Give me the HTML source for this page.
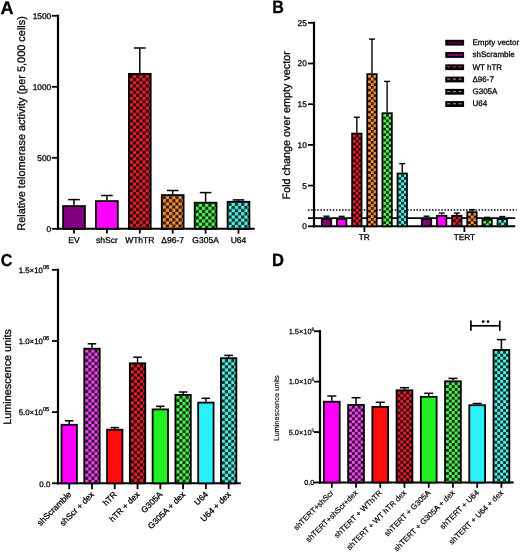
<!DOCTYPE html>
<html><head><meta charset="utf-8"><style>
html,body{margin:0;padding:0;background:#fff;}
svg{display:block;font-family:"Liberation Sans", sans-serif;will-change:transform;text-rendering:geometricPrecision;}
text{stroke:#000;stroke-width:0.28px;}
</style></head><body>
<svg width="520" height="552" viewBox="0 0 520 552">
<defs><filter id="glob" x="0" y="0" width="520" height="552" filterUnits="userSpaceOnUse"><feGaussianBlur stdDeviation="0.35"/></filter><filter id="soft" x="-5%" y="-1%" width="110%" height="102%"><feGaussianBlur stdDeviation="0.45"/></filter><pattern id="p1" patternUnits="userSpaceOnUse" x="129.80" y="77.97" width="6.340" height="6.340"><rect width="6.340" height="6.340" fill="#2d0608"/><rect x="0.000" y="0.000" width="3.170" height="3.170" fill="#E2202A"/><rect x="3.170" y="3.170" width="3.170" height="3.170" fill="#E2202A"/></pattern><pattern id="p2" patternUnits="userSpaceOnUse" x="162.70" y="199.17" width="6.340" height="6.340"><rect width="6.340" height="6.340" fill="#311c0c"/><rect x="0.000" y="0.000" width="3.170" height="3.170" fill="#F5903F"/><rect x="3.170" y="3.170" width="3.170" height="3.170" fill="#F5903F"/></pattern><pattern id="p3" patternUnits="userSpaceOnUse" x="195.60" y="206.77" width="6.340" height="6.340"><rect width="6.340" height="6.340" fill="#113011"/><rect x="0.000" y="0.000" width="3.170" height="3.170" fill="#55F055"/><rect x="3.170" y="3.170" width="3.170" height="3.170" fill="#55F055"/></pattern><pattern id="p4" patternUnits="userSpaceOnUse" x="228.50" y="205.87" width="6.340" height="6.340"><rect width="6.340" height="6.340" fill="#11302d"/><rect x="0.000" y="0.000" width="3.170" height="3.170" fill="#58F0E4"/><rect x="3.170" y="3.170" width="3.170" height="3.170" fill="#58F0E4"/></pattern><pattern id="p5" patternUnits="userSpaceOnUse" x="352.93" y="134.39" width="5.500" height="5.500"><rect width="5.500" height="5.500" fill="#2d0608"/><rect x="0.000" y="0.000" width="2.750" height="2.750" fill="#E2202A"/><rect x="2.750" y="2.750" width="2.750" height="2.750" fill="#E2202A"/></pattern><pattern id="p6" patternUnits="userSpaceOnUse" x="368.07" y="74.97" width="5.500" height="5.500"><rect width="5.500" height="5.500" fill="#311c0c"/><rect x="0.000" y="0.000" width="2.750" height="2.750" fill="#F5903F"/><rect x="2.750" y="2.750" width="2.750" height="2.750" fill="#F5903F"/></pattern><pattern id="p7" patternUnits="userSpaceOnUse" x="383.23" y="114.04" width="5.500" height="5.500"><rect width="5.500" height="5.500" fill="#113011"/><rect x="0.000" y="0.000" width="2.750" height="2.750" fill="#55F055"/><rect x="2.750" y="2.750" width="2.750" height="2.750" fill="#55F055"/></pattern><pattern id="p8" patternUnits="userSpaceOnUse" x="398.38" y="174.28" width="5.500" height="5.500"><rect width="5.500" height="5.500" fill="#11302d"/><rect x="0.000" y="0.000" width="2.750" height="2.750" fill="#58F0E4"/><rect x="2.750" y="2.750" width="2.750" height="2.750" fill="#58F0E4"/></pattern><pattern id="p9" patternUnits="userSpaceOnUse" x="452.93" y="216.60" width="5.500" height="5.500"><rect width="5.500" height="5.500" fill="#2d0608"/><rect x="0.000" y="0.000" width="2.750" height="2.750" fill="#E2202A"/><rect x="2.750" y="2.750" width="2.750" height="2.750" fill="#E2202A"/></pattern><pattern id="p10" patternUnits="userSpaceOnUse" x="468.07" y="212.94" width="5.500" height="5.500"><rect width="5.500" height="5.500" fill="#311c0c"/><rect x="0.000" y="0.000" width="2.750" height="2.750" fill="#F5903F"/><rect x="2.750" y="2.750" width="2.750" height="2.750" fill="#F5903F"/></pattern><pattern id="p11" patternUnits="userSpaceOnUse" x="483.23" y="220.67" width="5.500" height="5.500"><rect width="5.500" height="5.500" fill="#113011"/><rect x="0.000" y="0.000" width="2.750" height="2.750" fill="#55F055"/><rect x="2.750" y="2.750" width="2.750" height="2.750" fill="#55F055"/></pattern><pattern id="p12" patternUnits="userSpaceOnUse" x="498.38" y="219.86" width="5.500" height="5.500"><rect width="5.500" height="5.500" fill="#11302d"/><rect x="0.000" y="0.000" width="2.750" height="2.750" fill="#58F0E4"/><rect x="2.750" y="2.750" width="2.750" height="2.750" fill="#58F0E4"/></pattern><pattern id="p13" patternUnits="userSpaceOnUse" x="85.18" y="349.60" width="6.200" height="6.200"><rect width="6.200" height="6.200" fill="#300d30"/><rect x="0.000" y="0.000" width="3.100" height="3.100" fill="#F444F4"/><rect x="3.100" y="3.100" width="3.100" height="3.100" fill="#F444F4"/></pattern><pattern id="p14" patternUnits="userSpaceOnUse" x="130.74" y="364.20" width="6.200" height="6.200"><rect width="6.200" height="6.200" fill="#2d0608"/><rect x="0.000" y="0.000" width="3.100" height="3.100" fill="#E2202A"/><rect x="3.100" y="3.100" width="3.100" height="3.100" fill="#E2202A"/></pattern><pattern id="p15" patternUnits="userSpaceOnUse" x="176.30" y="395.80" width="6.200" height="6.200"><rect width="6.200" height="6.200" fill="#113011"/><rect x="0.000" y="0.000" width="3.100" height="3.100" fill="#55F055"/><rect x="3.100" y="3.100" width="3.100" height="3.100" fill="#55F055"/></pattern><pattern id="p16" patternUnits="userSpaceOnUse" x="221.86" y="359.10" width="6.200" height="6.200"><rect width="6.200" height="6.200" fill="#11302d"/><rect x="0.000" y="0.000" width="3.100" height="3.100" fill="#58F0E4"/><rect x="3.100" y="3.100" width="3.100" height="3.100" fill="#58F0E4"/></pattern><pattern id="p17" patternUnits="userSpaceOnUse" x="349.03" y="405.80" width="5.800" height="5.800"><rect width="5.800" height="5.800" fill="#300d30"/><rect x="0.000" y="0.000" width="2.900" height="2.900" fill="#F444F4"/><rect x="2.900" y="2.900" width="2.900" height="2.900" fill="#F444F4"/></pattern><pattern id="p18" patternUnits="userSpaceOnUse" x="397.49" y="391.20" width="5.800" height="5.800"><rect width="5.800" height="5.800" fill="#2d0608"/><rect x="0.000" y="0.000" width="2.900" height="2.900" fill="#E2202A"/><rect x="2.900" y="2.900" width="2.900" height="2.900" fill="#E2202A"/></pattern><pattern id="p19" patternUnits="userSpaceOnUse" x="445.95" y="382.20" width="5.800" height="5.800"><rect width="5.800" height="5.800" fill="#113011"/><rect x="0.000" y="0.000" width="2.900" height="2.900" fill="#55F055"/><rect x="2.900" y="2.900" width="2.900" height="2.900" fill="#55F055"/></pattern><pattern id="p20" patternUnits="userSpaceOnUse" x="494.41" y="350.90" width="5.800" height="5.800"><rect width="5.800" height="5.800" fill="#11302d"/><rect x="0.000" y="0.000" width="2.900" height="2.900" fill="#58F0E4"/><rect x="2.900" y="2.900" width="2.900" height="2.900" fill="#58F0E4"/></pattern></defs>
<rect width="520" height="552" fill="#fff"/>
<g fill="#000" filter="url(#glob)">
<text transform="translate(0.45,13.55) scale(1.05,1.06)" font-size="17.3" font-weight="bold">A</text>
<line x1="58.00" y1="14.70" x2="58.00" y2="229.90" stroke="#000" stroke-width="2.2" />
<line x1="56.90" y1="228.80" x2="254.70" y2="228.80" stroke="#000" stroke-width="2.0" />
<line x1="51.80" y1="228.80" x2="58.00" y2="228.80" stroke="#000" stroke-width="1.8" />
<text x="51.20" y="231.70" font-size="8.3" text-anchor="end" font-weight="normal" >0</text>
<line x1="51.80" y1="157.80" x2="58.00" y2="157.80" stroke="#000" stroke-width="1.8" />
<text x="51.20" y="160.70" font-size="8.3" text-anchor="end" font-weight="normal" >500</text>
<line x1="51.80" y1="86.80" x2="58.00" y2="86.80" stroke="#000" stroke-width="1.8" />
<text x="51.20" y="89.70" font-size="8.3" text-anchor="end" font-weight="normal" >1000</text>
<line x1="51.80" y1="15.80" x2="58.00" y2="15.80" stroke="#000" stroke-width="1.8" />
<text x="51.20" y="18.70" font-size="8.3" text-anchor="end" font-weight="normal" >1500</text>
<text transform="translate(24.6,123.4) rotate(-90)" font-size="10.95" text-anchor="middle">Relative telomerase activity (per 5,000 cells)</text>
<line x1="74.00" y1="205.20" x2="74.00" y2="199.60" stroke="#000" stroke-width="1.5"/>
<line x1="68.20" y1="199.60" x2="79.80" y2="199.60" stroke="#000" stroke-width="1.5"/>
<rect x="63.10" y="206.10" width="21.80" height="22.70" fill="#800080" stroke="#000" stroke-width="1.8"/>
<line x1="74.00" y1="228.80" x2="74.00" y2="233.60" stroke="#000" stroke-width="1.8" />
<text x="74.00" y="243.10" font-size="8.5" text-anchor="middle" font-weight="normal" >EV</text>
<line x1="106.90" y1="200.20" x2="106.90" y2="195.50" stroke="#000" stroke-width="1.5"/>
<line x1="101.10" y1="195.50" x2="112.70" y2="195.50" stroke="#000" stroke-width="1.5"/>
<rect x="96.00" y="201.10" width="21.80" height="27.70" fill="#FF00FF" stroke="#000" stroke-width="1.8"/>
<line x1="106.90" y1="228.80" x2="106.90" y2="233.60" stroke="#000" stroke-width="1.8" />
<text x="106.90" y="243.10" font-size="8.5" text-anchor="middle" font-weight="normal" >shScr</text>
<line x1="139.80" y1="73.00" x2="139.80" y2="48.00" stroke="#000" stroke-width="1.5"/>
<line x1="134.00" y1="48.00" x2="145.60" y2="48.00" stroke="#000" stroke-width="1.5"/>
<rect x="128.90" y="73.90" width="21.80" height="154.90" fill="url(#p1)" filter="url(#soft)"/>
<rect x="128.90" y="73.90" width="21.80" height="154.90" fill="none" stroke="#000" stroke-width="1.8"/>
<line x1="139.80" y1="228.80" x2="139.80" y2="233.60" stroke="#000" stroke-width="1.8" />
<text x="139.80" y="243.10" font-size="8.5" text-anchor="middle" font-weight="normal" >WThTR</text>
<line x1="172.70" y1="194.20" x2="172.70" y2="190.50" stroke="#000" stroke-width="1.5"/>
<line x1="166.90" y1="190.50" x2="178.50" y2="190.50" stroke="#000" stroke-width="1.5"/>
<rect x="161.80" y="195.10" width="21.80" height="33.70" fill="url(#p2)" filter="url(#soft)"/>
<rect x="161.80" y="195.10" width="21.80" height="33.70" fill="none" stroke="#000" stroke-width="1.8"/>
<line x1="172.70" y1="228.80" x2="172.70" y2="233.60" stroke="#000" stroke-width="1.8" />
<text x="172.70" y="243.10" font-size="8.5" text-anchor="middle" font-weight="normal" >&#916;96-7</text>
<line x1="205.60" y1="201.80" x2="205.60" y2="192.60" stroke="#000" stroke-width="1.5"/>
<line x1="199.80" y1="192.60" x2="211.40" y2="192.60" stroke="#000" stroke-width="1.5"/>
<rect x="194.70" y="202.70" width="21.80" height="26.10" fill="url(#p3)" filter="url(#soft)"/>
<rect x="194.70" y="202.70" width="21.80" height="26.10" fill="none" stroke="#000" stroke-width="1.8"/>
<line x1="205.60" y1="228.80" x2="205.60" y2="233.60" stroke="#000" stroke-width="1.8" />
<text x="205.60" y="243.10" font-size="8.5" text-anchor="middle" font-weight="normal" >G305A</text>
<line x1="238.50" y1="200.90" x2="238.50" y2="199.90" stroke="#000" stroke-width="1.5"/>
<line x1="232.70" y1="199.90" x2="244.30" y2="199.90" stroke="#000" stroke-width="1.5"/>
<rect x="227.60" y="201.80" width="21.80" height="27.00" fill="url(#p4)" filter="url(#soft)"/>
<rect x="227.60" y="201.80" width="21.80" height="27.00" fill="none" stroke="#000" stroke-width="1.8"/>
<line x1="238.50" y1="228.80" x2="238.50" y2="233.60" stroke="#000" stroke-width="1.8" />
<text x="238.50" y="243.10" font-size="8.5" text-anchor="middle" font-weight="normal" >U64</text>
<text transform="translate(272.3,13.1) scale(0.93,1.04)" font-size="17.3" font-weight="bold">B</text>
<line x1="314.00" y1="21.70" x2="314.00" y2="227.40" stroke="#000" stroke-width="2.2" />
<line x1="312.90" y1="226.30" x2="515.20" y2="226.30" stroke="#000" stroke-width="2.0" />
<line x1="308.00" y1="226.30" x2="314.00" y2="226.30" stroke="#000" stroke-width="1.8" />
<text x="306.80" y="229.20" font-size="8.3" text-anchor="end" font-weight="normal" >0</text>
<line x1="308.00" y1="185.60" x2="314.00" y2="185.60" stroke="#000" stroke-width="1.8" />
<text x="306.80" y="188.50" font-size="8.3" text-anchor="end" font-weight="normal" >5</text>
<line x1="308.00" y1="144.90" x2="314.00" y2="144.90" stroke="#000" stroke-width="1.8" />
<text x="306.80" y="147.80" font-size="8.3" text-anchor="end" font-weight="normal" >10</text>
<line x1="308.00" y1="104.20" x2="314.00" y2="104.20" stroke="#000" stroke-width="1.8" />
<text x="306.80" y="107.10" font-size="8.3" text-anchor="end" font-weight="normal" >15</text>
<line x1="308.00" y1="63.50" x2="314.00" y2="63.50" stroke="#000" stroke-width="1.8" />
<text x="306.80" y="66.40" font-size="8.3" text-anchor="end" font-weight="normal" >20</text>
<line x1="308.00" y1="22.80" x2="314.00" y2="22.80" stroke="#000" stroke-width="1.8" />
<text x="306.80" y="25.70" font-size="8.3" text-anchor="end" font-weight="normal" >25</text>
<line x1="308.00" y1="218.16" x2="515.20" y2="218.16" stroke="#000" stroke-width="1.8" />
<line x1="308" y1="210.02" x2="516.5" y2="210.02" stroke="#000" stroke-width="1.3" stroke-dasharray="1.5 1.6"/>
<text transform="translate(290.4,125.3) rotate(-90)" font-size="10.8" text-anchor="middle">Fold change over empty vector</text>
<line x1="326.52" y1="218.16" x2="326.52" y2="216.21" stroke="#000" stroke-width="1.4"/>
<line x1="323.52" y1="216.21" x2="329.52" y2="216.21" stroke="#000" stroke-width="1.4"/>
<rect x="321.77" y="219.01" width="9.50" height="7.29" fill="#800080" stroke="#000" stroke-width="1.7"/>
<line x1="341.67" y1="218.16" x2="341.67" y2="216.37" stroke="#000" stroke-width="1.4"/>
<line x1="338.67" y1="216.37" x2="344.67" y2="216.37" stroke="#000" stroke-width="1.4"/>
<rect x="336.92" y="219.01" width="9.50" height="7.29" fill="#FF00FF" stroke="#000" stroke-width="1.7"/>
<line x1="356.82" y1="132.69" x2="356.82" y2="117.22" stroke="#000" stroke-width="1.4"/>
<line x1="353.82" y1="117.22" x2="359.82" y2="117.22" stroke="#000" stroke-width="1.4"/>
<rect x="352.07" y="133.54" width="9.50" height="92.76" fill="url(#p5)" filter="url(#soft)"/>
<rect x="352.07" y="133.54" width="9.50" height="92.76" fill="none" stroke="#000" stroke-width="1.7"/>
<line x1="371.97" y1="73.27" x2="371.97" y2="39.08" stroke="#000" stroke-width="1.4"/>
<line x1="368.97" y1="39.08" x2="374.97" y2="39.08" stroke="#000" stroke-width="1.4"/>
<rect x="367.22" y="74.12" width="9.50" height="152.18" fill="url(#p6)" filter="url(#soft)"/>
<rect x="367.22" y="74.12" width="9.50" height="152.18" fill="none" stroke="#000" stroke-width="1.7"/>
<line x1="387.12" y1="112.34" x2="387.12" y2="81.41" stroke="#000" stroke-width="1.4"/>
<line x1="384.12" y1="81.41" x2="390.12" y2="81.41" stroke="#000" stroke-width="1.4"/>
<rect x="382.38" y="113.19" width="9.50" height="113.11" fill="url(#p7)" filter="url(#soft)"/>
<rect x="382.38" y="113.19" width="9.50" height="113.11" fill="none" stroke="#000" stroke-width="1.7"/>
<line x1="402.27" y1="172.58" x2="402.27" y2="163.62" stroke="#000" stroke-width="1.4"/>
<line x1="399.27" y1="163.62" x2="405.27" y2="163.62" stroke="#000" stroke-width="1.4"/>
<rect x="397.52" y="173.43" width="9.50" height="52.87" fill="url(#p8)" filter="url(#soft)"/>
<rect x="397.52" y="173.43" width="9.50" height="52.87" fill="none" stroke="#000" stroke-width="1.7"/>
<line x1="364.40" y1="226.30" x2="364.40" y2="232.00" stroke="#000" stroke-width="1.8" />
<line x1="426.52" y1="218.16" x2="426.52" y2="216.21" stroke="#000" stroke-width="1.4"/>
<line x1="423.52" y1="216.21" x2="429.52" y2="216.21" stroke="#000" stroke-width="1.4"/>
<rect x="421.77" y="219.01" width="9.50" height="7.29" fill="#800080" stroke="#000" stroke-width="1.7"/>
<line x1="441.67" y1="214.90" x2="441.67" y2="213.03" stroke="#000" stroke-width="1.4"/>
<line x1="438.67" y1="213.03" x2="444.67" y2="213.03" stroke="#000" stroke-width="1.4"/>
<rect x="436.92" y="215.75" width="9.50" height="10.55" fill="#FF00FF" stroke="#000" stroke-width="1.7"/>
<line x1="456.82" y1="214.90" x2="456.82" y2="213.03" stroke="#000" stroke-width="1.4"/>
<line x1="453.82" y1="213.03" x2="459.82" y2="213.03" stroke="#000" stroke-width="1.4"/>
<rect x="452.07" y="215.75" width="9.50" height="10.55" fill="url(#p9)" filter="url(#soft)"/>
<rect x="452.07" y="215.75" width="9.50" height="10.55" fill="none" stroke="#000" stroke-width="1.7"/>
<line x1="471.97" y1="211.24" x2="471.97" y2="209.61" stroke="#000" stroke-width="1.4"/>
<line x1="468.97" y1="209.61" x2="474.97" y2="209.61" stroke="#000" stroke-width="1.4"/>
<rect x="467.22" y="212.09" width="9.50" height="14.21" fill="url(#p10)" filter="url(#soft)"/>
<rect x="467.22" y="212.09" width="9.50" height="14.21" fill="none" stroke="#000" stroke-width="1.7"/>
<line x1="487.12" y1="218.97" x2="487.12" y2="217.35" stroke="#000" stroke-width="1.4"/>
<line x1="484.12" y1="217.35" x2="490.12" y2="217.35" stroke="#000" stroke-width="1.4"/>
<rect x="482.38" y="219.82" width="9.50" height="6.48" fill="url(#p11)" filter="url(#soft)"/>
<rect x="482.38" y="219.82" width="9.50" height="6.48" fill="none" stroke="#000" stroke-width="1.7"/>
<line x1="502.27" y1="218.16" x2="502.27" y2="216.53" stroke="#000" stroke-width="1.4"/>
<line x1="499.27" y1="216.53" x2="505.27" y2="216.53" stroke="#000" stroke-width="1.4"/>
<rect x="497.52" y="219.01" width="9.50" height="7.29" fill="url(#p12)" filter="url(#soft)"/>
<rect x="497.52" y="219.01" width="9.50" height="7.29" fill="none" stroke="#000" stroke-width="1.7"/>
<line x1="464.40" y1="226.30" x2="464.40" y2="232.00" stroke="#000" stroke-width="1.8" />
<text x="364.20" y="240.00" font-size="8.3" text-anchor="middle" font-weight="normal" >TR</text>
<text x="464.40" y="240.00" font-size="8.3" text-anchor="middle" font-weight="normal" >TERT</text>
<rect x="445.9" y="40.40" width="17.6" height="4.6" fill="#120008" stroke="#000" stroke-width="1.2"/>
<line x1="447.5" y1="42.70" x2="462.5" y2="42.70" stroke="#800080" stroke-width="1.3" opacity="0.7"/>
<text x="472.50" y="45.00" font-size="8.0" text-anchor="start" font-weight="normal" >Empty vector</text>
<rect x="445.9" y="52.67" width="17.6" height="4.6" fill="#120008" stroke="#000" stroke-width="1.2"/>
<line x1="447.5" y1="54.97" x2="462.5" y2="54.97" stroke="#FF00FF" stroke-width="1.3" opacity="0.7"/>
<text x="472.50" y="57.27" font-size="8.0" text-anchor="start" font-weight="normal" >shScramble</text>
<rect x="445.9" y="64.94" width="17.6" height="4.6" fill="#120008" stroke="#000" stroke-width="1.2"/>
<line x1="447.2" y1="66.94" x2="461.6" y2="66.94" stroke="#A83848" stroke-width="1.2" stroke-dasharray="3 2.7"/>
<text x="472.50" y="69.54" font-size="8.0" text-anchor="start" font-weight="normal" >WT hTR</text>
<rect x="445.9" y="77.21" width="17.6" height="4.6" fill="#120008" stroke="#000" stroke-width="1.2"/>
<line x1="447.2" y1="79.21" x2="461.6" y2="79.21" stroke="#B87868" stroke-width="1.2" stroke-dasharray="3 2.7"/>
<text x="472.50" y="81.81" font-size="8.0" text-anchor="start" font-weight="normal" >&#916;96-7</text>
<rect x="445.9" y="89.48" width="17.6" height="4.6" fill="#120008" stroke="#000" stroke-width="1.2"/>
<line x1="447.2" y1="91.48" x2="461.6" y2="91.48" stroke="#78B078" stroke-width="1.2" stroke-dasharray="3 2.7"/>
<text x="472.50" y="94.08" font-size="8.0" text-anchor="start" font-weight="normal" >G305A</text>
<rect x="445.9" y="101.75" width="17.6" height="4.6" fill="#120008" stroke="#000" stroke-width="1.2"/>
<line x1="447.2" y1="103.75" x2="461.6" y2="103.75" stroke="#78B8B4" stroke-width="1.2" stroke-dasharray="3 2.7"/>
<text x="472.50" y="106.35" font-size="8.0" text-anchor="start" font-weight="normal" >U64</text>
<text transform="translate(0.65,265.7) scale(0.93,1.0)" font-size="17.3" font-weight="bold">C</text>
<line x1="58.00" y1="268.70" x2="58.00" y2="484.40" stroke="#000" stroke-width="2.2" />
<line x1="56.90" y1="483.30" x2="240.80" y2="483.30" stroke="#000" stroke-width="2.0" />
<line x1="52.00" y1="483.30" x2="58.00" y2="483.30" stroke="#000" stroke-width="1.8" />
<text x="50.30" y="486.80" font-size="7.9" text-anchor="end" font-weight="normal" >0.0</text>
<line x1="52.00" y1="412.13" x2="58.00" y2="412.13" stroke="#000" stroke-width="1.8" />
<text x="42.9" y="415.03" font-size="7.85" text-anchor="end">5.0&#215;10</text>
<text x="42.9" y="411.43" font-size="5.7">05</text>
<line x1="52.00" y1="340.97" x2="58.00" y2="340.97" stroke="#000" stroke-width="1.8" />
<text x="42.9" y="343.87" font-size="7.85" text-anchor="end">1.0&#215;10</text>
<text x="42.9" y="340.27" font-size="5.7">06</text>
<line x1="52.00" y1="269.80" x2="58.00" y2="269.80" stroke="#000" stroke-width="1.8" />
<text x="42.9" y="272.70" font-size="7.85" text-anchor="end">1.5&#215;10</text>
<text x="42.9" y="269.10" font-size="5.7">06</text>
<text transform="translate(10.9,376.9) rotate(-90)" font-size="10.85" text-anchor="middle">Luminescence units</text>
<line x1="69.20" y1="423.90" x2="69.20" y2="420.80" stroke="#000" stroke-width="1.5"/>
<line x1="64.90" y1="420.80" x2="73.50" y2="420.80" stroke="#000" stroke-width="1.5"/>
<rect x="61.50" y="424.80" width="15.40" height="58.50" fill="#FF00FF" stroke="#000" stroke-width="1.8"/>
<line x1="69.20" y1="483.30" x2="69.20" y2="489.20" stroke="#000" stroke-width="1.8" />
<text transform="translate(71.80,495.00) rotate(-45)" font-size="8.4" text-anchor="end">shScramble</text>
<line x1="91.98" y1="347.80" x2="91.98" y2="343.80" stroke="#000" stroke-width="1.5"/>
<line x1="87.68" y1="343.80" x2="96.28" y2="343.80" stroke="#000" stroke-width="1.5"/>
<rect x="84.28" y="348.70" width="15.40" height="134.60" fill="url(#p13)" filter="url(#soft)"/>
<rect x="84.28" y="348.70" width="15.40" height="134.60" fill="none" stroke="#000" stroke-width="1.8"/>
<line x1="91.98" y1="483.30" x2="91.98" y2="489.20" stroke="#000" stroke-width="1.8" />
<text transform="translate(94.58,495.00) rotate(-45)" font-size="8.4" text-anchor="end">shScr + dex</text>
<line x1="114.76" y1="428.80" x2="114.76" y2="427.60" stroke="#000" stroke-width="1.5"/>
<line x1="110.46" y1="427.60" x2="119.06" y2="427.60" stroke="#000" stroke-width="1.5"/>
<rect x="107.06" y="429.70" width="15.40" height="53.60" fill="#FF0808" stroke="#000" stroke-width="1.8"/>
<line x1="114.76" y1="483.30" x2="114.76" y2="489.20" stroke="#000" stroke-width="1.8" />
<text transform="translate(117.36,495.00) rotate(-45)" font-size="8.4" text-anchor="end">hTR</text>
<line x1="137.54" y1="362.40" x2="137.54" y2="357.20" stroke="#000" stroke-width="1.5"/>
<line x1="133.24" y1="357.20" x2="141.84" y2="357.20" stroke="#000" stroke-width="1.5"/>
<rect x="129.84" y="363.30" width="15.40" height="120.00" fill="url(#p14)" filter="url(#soft)"/>
<rect x="129.84" y="363.30" width="15.40" height="120.00" fill="none" stroke="#000" stroke-width="1.8"/>
<line x1="137.54" y1="483.30" x2="137.54" y2="489.20" stroke="#000" stroke-width="1.8" />
<text transform="translate(140.14,495.00) rotate(-45)" font-size="8.4" text-anchor="end">hTR + dex</text>
<line x1="160.32" y1="408.50" x2="160.32" y2="406.30" stroke="#000" stroke-width="1.5"/>
<line x1="156.02" y1="406.30" x2="164.62" y2="406.30" stroke="#000" stroke-width="1.5"/>
<rect x="152.62" y="409.40" width="15.40" height="73.90" fill="#22EE22" stroke="#000" stroke-width="1.8"/>
<line x1="160.32" y1="483.30" x2="160.32" y2="489.20" stroke="#000" stroke-width="1.8" />
<text transform="translate(162.92,495.00) rotate(-45)" font-size="8.4" text-anchor="end">G305A</text>
<line x1="183.10" y1="394.00" x2="183.10" y2="392.00" stroke="#000" stroke-width="1.5"/>
<line x1="178.80" y1="392.00" x2="187.40" y2="392.00" stroke="#000" stroke-width="1.5"/>
<rect x="175.40" y="394.90" width="15.40" height="88.40" fill="url(#p15)" filter="url(#soft)"/>
<rect x="175.40" y="394.90" width="15.40" height="88.40" fill="none" stroke="#000" stroke-width="1.8"/>
<line x1="183.10" y1="483.30" x2="183.10" y2="489.20" stroke="#000" stroke-width="1.8" />
<text transform="translate(185.70,495.00) rotate(-45)" font-size="8.4" text-anchor="end">G305A + dex</text>
<line x1="205.88" y1="401.70" x2="205.88" y2="398.30" stroke="#000" stroke-width="1.5"/>
<line x1="201.58" y1="398.30" x2="210.18" y2="398.30" stroke="#000" stroke-width="1.5"/>
<rect x="198.18" y="402.60" width="15.40" height="80.70" fill="#2AF0F8" stroke="#000" stroke-width="1.8"/>
<line x1="205.88" y1="483.30" x2="205.88" y2="489.20" stroke="#000" stroke-width="1.8" />
<text transform="translate(208.48,495.00) rotate(-45)" font-size="8.4" text-anchor="end">U64</text>
<line x1="228.66" y1="357.30" x2="228.66" y2="355.40" stroke="#000" stroke-width="1.5"/>
<line x1="224.36" y1="355.40" x2="232.96" y2="355.40" stroke="#000" stroke-width="1.5"/>
<rect x="220.96" y="358.20" width="15.40" height="125.10" fill="url(#p16)" filter="url(#soft)"/>
<rect x="220.96" y="358.20" width="15.40" height="125.10" fill="none" stroke="#000" stroke-width="1.8"/>
<line x1="228.66" y1="483.30" x2="228.66" y2="489.20" stroke="#000" stroke-width="1.8" />
<text transform="translate(231.26,495.00) rotate(-45)" font-size="8.4" text-anchor="end">U64 + dex</text>
<text transform="translate(272.0,265.9) scale(0.96,1.04)" font-size="17.3" font-weight="bold">D</text>
<line x1="320.00" y1="330.10" x2="320.00" y2="483.60" stroke="#000" stroke-width="2.2" />
<line x1="318.90" y1="482.50" x2="513.70" y2="482.50" stroke="#000" stroke-width="2.0" />
<line x1="314.00" y1="482.50" x2="320.00" y2="482.50" stroke="#000" stroke-width="1.8" />
<text x="314.20" y="485.20" font-size="7.2" text-anchor="end" font-weight="normal" >0.0</text>
<line x1="314.00" y1="432.07" x2="320.00" y2="432.07" stroke="#000" stroke-width="1.8" />
<text x="311.6" y="434.77" font-size="7.45" text-anchor="end" style="stroke-width:0.25px">5.0&#215;10</text>
<text x="311.4" y="431.77" font-size="4.9" style="stroke-width:0.15px">5</text>
<line x1="314.00" y1="381.63" x2="320.00" y2="381.63" stroke="#000" stroke-width="1.8" />
<text x="311.6" y="384.33" font-size="7.45" text-anchor="end" style="stroke-width:0.25px">1.0&#215;10</text>
<text x="311.4" y="381.33" font-size="4.9" style="stroke-width:0.15px">6</text>
<line x1="314.00" y1="331.20" x2="320.00" y2="331.20" stroke="#000" stroke-width="1.8" />
<text x="311.6" y="333.90" font-size="7.45" text-anchor="end" style="stroke-width:0.25px">1.5&#215;10</text>
<text x="311.4" y="330.90" font-size="4.9" style="stroke-width:0.15px">6</text>
<text transform="translate(278.5,408.0) rotate(-90)" font-size="7.4" text-anchor="middle" style="stroke-width:0.12px">Luminescence units</text>
<line x1="331.80" y1="400.80" x2="331.80" y2="396.00" stroke="#000" stroke-width="1.5"/>
<line x1="327.30" y1="396.00" x2="336.30" y2="396.00" stroke="#000" stroke-width="1.5"/>
<rect x="323.90" y="401.70" width="15.80" height="80.80" fill="#FF00FF" stroke="#000" stroke-width="1.8"/>
<line x1="331.80" y1="482.50" x2="331.80" y2="487.80" stroke="#000" stroke-width="1.8" />
<text transform="translate(334.10,493.30) rotate(-45)" font-size="7.8" text-anchor="end" style="stroke-width:0.2px">shTERT+shScr</text>
<line x1="356.03" y1="404.00" x2="356.03" y2="397.70" stroke="#000" stroke-width="1.5"/>
<line x1="351.53" y1="397.70" x2="360.53" y2="397.70" stroke="#000" stroke-width="1.5"/>
<rect x="348.13" y="404.90" width="15.80" height="77.60" fill="url(#p17)" filter="url(#soft)"/>
<rect x="348.13" y="404.90" width="15.80" height="77.60" fill="none" stroke="#000" stroke-width="1.8"/>
<line x1="356.03" y1="482.50" x2="356.03" y2="487.80" stroke="#000" stroke-width="1.8" />
<text transform="translate(358.33,493.30) rotate(-45)" font-size="7.8" text-anchor="end" style="stroke-width:0.2px">shTERT+shScr+dex</text>
<line x1="380.26" y1="406.00" x2="380.26" y2="402.30" stroke="#000" stroke-width="1.5"/>
<line x1="375.76" y1="402.30" x2="384.76" y2="402.30" stroke="#000" stroke-width="1.5"/>
<rect x="372.36" y="406.90" width="15.80" height="75.60" fill="#FF0808" stroke="#000" stroke-width="1.8"/>
<line x1="380.26" y1="482.50" x2="380.26" y2="487.80" stroke="#000" stroke-width="1.8" />
<text transform="translate(382.56,493.30) rotate(-45)" font-size="7.8" text-anchor="end" style="stroke-width:0.2px">shTERT + WThTR</text>
<line x1="404.49" y1="389.40" x2="404.49" y2="387.70" stroke="#000" stroke-width="1.5"/>
<line x1="399.99" y1="387.70" x2="408.99" y2="387.70" stroke="#000" stroke-width="1.5"/>
<rect x="396.59" y="390.30" width="15.80" height="92.20" fill="url(#p18)" filter="url(#soft)"/>
<rect x="396.59" y="390.30" width="15.80" height="92.20" fill="none" stroke="#000" stroke-width="1.8"/>
<line x1="404.49" y1="482.50" x2="404.49" y2="487.80" stroke="#000" stroke-width="1.8" />
<text transform="translate(406.79,493.30) rotate(-45)" font-size="7.8" text-anchor="end" style="stroke-width:0.2px">shTERT + WT hTR dex</text>
<line x1="428.72" y1="395.90" x2="428.72" y2="393.30" stroke="#000" stroke-width="1.5"/>
<line x1="424.22" y1="393.30" x2="433.22" y2="393.30" stroke="#000" stroke-width="1.5"/>
<rect x="420.82" y="396.80" width="15.80" height="85.70" fill="#22EE22" stroke="#000" stroke-width="1.8"/>
<line x1="428.72" y1="482.50" x2="428.72" y2="487.80" stroke="#000" stroke-width="1.8" />
<text transform="translate(431.02,493.30) rotate(-45)" font-size="7.8" text-anchor="end" style="stroke-width:0.2px">shTERT + G305A</text>
<line x1="452.95" y1="380.40" x2="452.95" y2="378.40" stroke="#000" stroke-width="1.5"/>
<line x1="448.45" y1="378.40" x2="457.45" y2="378.40" stroke="#000" stroke-width="1.5"/>
<rect x="445.05" y="381.30" width="15.80" height="101.20" fill="url(#p19)" filter="url(#soft)"/>
<rect x="445.05" y="381.30" width="15.80" height="101.20" fill="none" stroke="#000" stroke-width="1.8"/>
<line x1="452.95" y1="482.50" x2="452.95" y2="487.80" stroke="#000" stroke-width="1.8" />
<text transform="translate(455.25,493.30) rotate(-45)" font-size="7.8" text-anchor="end" style="stroke-width:0.2px">shTERT + G305A + dex</text>
<line x1="477.18" y1="404.30" x2="477.18" y2="403.50" stroke="#000" stroke-width="1.5"/>
<line x1="472.68" y1="403.50" x2="481.68" y2="403.50" stroke="#000" stroke-width="1.5"/>
<rect x="469.28" y="405.20" width="15.80" height="77.30" fill="#2AF0F8" stroke="#000" stroke-width="1.8"/>
<line x1="477.18" y1="482.50" x2="477.18" y2="487.80" stroke="#000" stroke-width="1.8" />
<text transform="translate(479.48,493.30) rotate(-45)" font-size="7.8" text-anchor="end" style="stroke-width:0.2px">shTERT + U64</text>
<line x1="501.41" y1="349.10" x2="501.41" y2="339.60" stroke="#000" stroke-width="1.5"/>
<line x1="496.91" y1="339.60" x2="505.91" y2="339.60" stroke="#000" stroke-width="1.5"/>
<rect x="493.51" y="350.00" width="15.80" height="132.50" fill="url(#p20)" filter="url(#soft)"/>
<rect x="493.51" y="350.00" width="15.80" height="132.50" fill="none" stroke="#000" stroke-width="1.8"/>
<line x1="501.41" y1="482.50" x2="501.41" y2="487.80" stroke="#000" stroke-width="1.8" />
<text transform="translate(503.71,493.30) rotate(-45)" font-size="7.8" text-anchor="end" style="stroke-width:0.2px">shTERT + U64 + dex</text>
<line x1="470.90" y1="325.80" x2="499.80" y2="325.80" stroke="#000" stroke-width="1.7" />
<line x1="470.90" y1="320.60" x2="470.90" y2="330.80" stroke="#000" stroke-width="1.7" />
<line x1="499.80" y1="320.60" x2="499.80" y2="330.80" stroke="#000" stroke-width="1.7" />
<circle cx="483.2" cy="321.6" r="1.45"/><circle cx="488.0" cy="321.6" r="1.45"/>
</g>
</svg>
</body></html>
